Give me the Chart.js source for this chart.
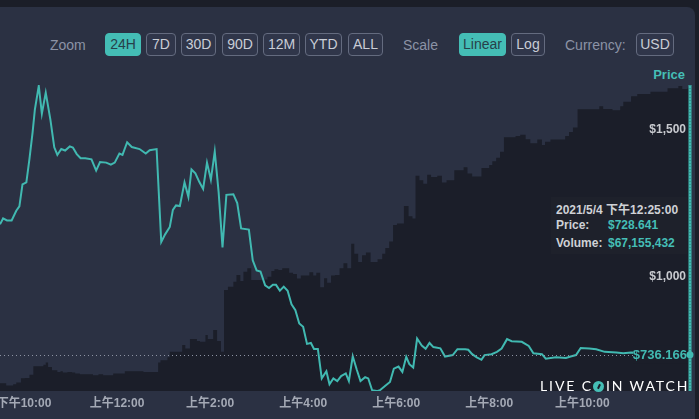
<!DOCTYPE html>
<html><head><meta charset="utf-8">
<script src="https://cdn.jsdelivr.net/npm/chart.js@4.4.1/dist/chart.umd.min.js"></script>
<style>
html,body{margin:0;padding:0;background:#1b1e28;width:699px;height:419px;overflow:hidden;}
#panel{position:absolute;left:-12px;top:7px;width:707px;height:430px;background:#2b3143;border-radius:8px;}
.lbl{position:absolute;top:34px;height:23px;line-height:23px;font-family:"Liberation Sans Narrow","Liberation Sans",sans-serif;font-size:14px;color:#8c93a6;}
.btn{position:absolute;top:33px;height:23px;box-sizing:border-box;border:1px solid #646b7f;border-radius:4px;background:#30364a;color:#c9cdd6;font-family:"Liberation Sans Narrow","Liberation Sans",sans-serif;font-size:14px;line-height:21px;text-align:center;}
.btn.on{background:#44bdb5;border-color:#44bdb5;color:#27404a;}
#ptitle{position:absolute;right:14px;top:67px;font-family:"Liberation Sans Narrow","Liberation Sans",sans-serif;font-weight:bold;font-size:13px;color:#45beb6;}
#tip{position:absolute;left:551px;top:197px;width:136px;height:57px;background:#1e212b;font-family:"Liberation Sans","Noto Sans CJK SC",sans-serif;font-weight:bold;font-size:12px;color:#cfd1d6;}
#tip div{position:absolute;left:5px;white-space:nowrap;}
#tip span.v{position:absolute;left:52px;color:#45beb6;}
#wm{position:absolute;left:540px;top:377px;font-family:"Lato","Open Sans",sans-serif;font-size:14px;letter-spacing:1.9px;color:#ffffff;white-space:nowrap;}
#wm .o{display:inline-block;width:11px;height:11px;border-radius:50%;background:#45beb6;vertical-align:-1px;margin-right:1.9px;position:relative;}
#wm .o:after{content:"";position:absolute;left:5px;top:3px;width:2px;height:5px;background:#1b1e29;transform:rotate(25deg);}
canvas{position:absolute;left:-40px;top:80px;}
</style></head>
<body>
<div id="panel"></div>
<div class="lbl" style="left:50px">Zoom</div>
<div class="btn on" style="left:105px;width:36px">24H</div>
<div class="btn" style="left:146px;width:30px">7D</div>
<div class="btn" style="left:181px;width:35px">30D</div>
<div class="btn" style="left:222px;width:36px">90D</div>
<div class="btn" style="left:263px;width:37px">12M</div>
<div class="btn" style="left:305px;width:37px">YTD</div>
<div class="btn" style="left:348px;width:35px">ALL</div>
<div class="lbl" style="left:403px">Scale</div>
<div class="btn on" style="left:459px;width:47px">Linear</div>
<div class="btn" style="left:511px;width:34px">Log</div>
<div class="lbl" style="left:565px">Currency:</div>
<div class="btn" style="left:636px;width:38px">USD</div>
<div id="ptitle">Price</div>
<canvas id="c" width="739" height="339"></canvas>
<div id="tip">
  <div style="top:3px">2021/5/4 下午12:25:00</div>
  <div style="top:21px">Price:<span class="v">$728.641</span></div>
  <div style="top:39px">Volume:<span class="v">$67,155,432</span></div>
</div>
<div id="wm">LIVE C<span class="o"></span>IN WATCH</div>
<script>
// ---- data ----
const priceTimes = ["21:29","21:33","21:38","21:44","21:50","21:54","21:58","22:03","22:07","22:11",
"22:14","22:19","22:23","22:28","22:34","22:39","22:43","22:48","22:53","22:59",
"23:03","23:08","23:13","23:19","23:27","23:33","23:38","23:46","23:52","23:57",
"00:03","00:07","00:13","00:19","00:29","00:37","00:42","00:51","00:57","01:02",
"01:08","01:12","01:16","01:21","01:27","01:32","01:36","01:41","01:46","01:51",
"01:56","02:01","02:06","02:11","02:16","02:21","02:30","02:35","02:40","02:50",
"02:55","03:00","03:05","03:11","03:16","03:21","03:25","03:30","03:35","03:40",
"03:45","03:50","03:55","04:00","04:05","04:10","04:14","04:19","04:24","04:30",
"04:34","04:39","04:44","04:49","04:55","04:59","05:04","05:09","05:14","05:20",
"05:24","05:29","05:35","05:39","05:46","05:52","05:57","06:03","06:08","06:13",
"06:17","06:22","06:27","06:33","06:38","06:43","06:48","06:57","07:03","07:13",
"07:19","07:29","07:33","07:38","07:44","07:50","07:54","08:03","08:10","08:16",
"08:23","08:29","08:42","08:51","08:57","09:08","09:13","09:26","09:39","09:45",
"09:52","09:58","10:09","10:18","10:29","10:44","10:53","11:03","11:30","12:00",
"12:19"];
const prices = [1178,1198,1191,1191,1224,1239,1313,1320,1400,1489,
1567,1647,1553,1624,1533,1439,1413,1433,1428,1442,
1438,1416,1402,1402,1398,1360,1389,1387,1380,1387,
1418,1413,1456,1440,1433,1418,1429,1433,1118,1144,
1169,1227,1242,1240,1320,1271,1364,1351,1322,1298,
1387,1329,1424,1287,1100,1278,1280,1250,1164,1160,
1056,1022,1018,971,962,973,973,953,967,953,
907,887,842,831,773,776,756,756,656,680,
636,656,647,664,673,647,731,687,647,660,
656,616,613,616,631,644,689,696,678,729,
704,693,791,767,756,776,762,758,730,735,
755,755,753,738,727,719,735,738,746,757,
789,782,780,766,741,738,723,728,725,730,
735,759,757,755,746,744,741,744,740,738,
736.166];
const volTimes = ["21:29","21:37","21:46","21:50","21:56","22:01","22:07","22:12","22:25","22:28",
"22:31","22:36","22:43","22:47","22:50","22:56","23:02","23:06","23:12","23:29",
"23:36","23:42","23:55","00:10","00:34","00:53","00:56","01:05","01:08","01:24",
"01:28","01:34","01:43","01:47","01:54","01:57","02:04","02:09","02:14","02:18",
"02:23","02:30","02:34","02:39","02:43","02:48","02:53","03:07","03:14","03:19",
"03:23","03:28","03:33","03:42","03:47","03:52","03:57","04:08","04:13","04:17",
"04:22","04:27","04:31","04:36","04:41","04:47","04:52","04:57","05:02","05:06",
"05:11","05:16","05:21","05:27","05:36","05:42","05:46","05:51","05:56","06:01",
"06:10","06:16","06:21","06:25","06:30","06:35","06:40","06:45","06:53","06:59",
"07:05","07:15","07:27","07:32","07:38","07:50","08:00","08:04","08:09","08:14",
"08:19","08:34","08:40","08:47","08:53","09:02","09:08","09:12","09:19","09:38",
"09:43","09:48","09:54","10:22","10:27","10:39","10:49","10:53","11:03","11:11",
"11:28","11:50","12:04","12:09","12:16","12:19"];
const volumesM = [1.7,1.2,1.5,1.9,2.8,2.9,3.6,5.5,5.8,6.3,
5.3,4.6,4.2,4.4,4.1,4.2,4.1,3.9,3.7,3.5,
3.7,3.5,3.9,4.4,4.2,6.3,6.8,7.5,8.7,10.2,
9.4,11.5,11.1,10.9,12.4,11.5,13.5,11.1,8.7,22.4,
23.1,24.2,25.7,24.4,26.4,27.2,24.6,24.7,25.3,26.6,
27.0,26.8,27.2,26.2,25.9,24.9,25.6,26.3,25.6,26.2,
23.0,25.0,24.0,25.6,25.7,27.2,28.3,27.2,32.6,30.4,
28.6,30.1,30.7,28.6,29.2,30.4,31.7,33.1,36.8,37.1,
41.0,38.7,38.2,47.7,46.7,45.9,47.9,47.4,47.7,46.2,
46.7,48.9,49.6,48.2,47.5,49.4,50.1,50.9,51.7,53.0,
56.2,56.5,56.8,55.8,54.9,55.7,54.5,55.2,55.7,56.5,
57.4,58.4,62.4,63.1,62.5,62.2,63.1,64.1,65.3,65.8,
66.3,67.1,67.6,66.9,67.2,67.155432];
const xTickTimes = ["22:00","00:00","02:00","04:00","06:00","08:00","10:00"];
const xTickLabels = ["下午10:00","上午12:00","上午2:00","上午4:00","上午6:00","上午8:00","上午10:00"];
const priceTicks = [1000,1500];
const currentPrice = 736.166;
const xRange = ["21:29","12:19"];
const priceRange = [613.3,1650];
const volRange = [0,67.8];

// minutes relative to 22:00 of the previous day
function toMin(s){const [h,m]=s.split(':').map(Number);const v=h*60+m;return h>=21?v-1320:v+120;}

const TEAL='#41b9b1';
const overlay = {
  id:'overlay',
  afterDatasetsDraw(chart){
    const ctx=chart.ctx, ca=chart.chartArea, ys=chart.scales.y, xs=chart.scales.x;
    const cy=ys.getPixelForValue(currentPrice);
    const cx=xs.getPixelForValue(toMin(priceTimes[priceTimes.length-1]));
    ctx.save();
    // dotted current price line
    ctx.strokeStyle='#8d93a3';ctx.lineWidth=1;ctx.setLineDash([1,3]);
    ctx.beginPath();ctx.moveTo(ca.left,Math.round(cy)+0.5);ctx.lineTo(cx-56,Math.round(cy)+0.5);ctx.stroke();
    ctx.setLineDash([]);
    // price tick labels
    ctx.font='bold 12px "Liberation Sans", sans-serif';ctx.fillStyle='#c8cacf';ctx.textAlign='right';ctx.textBaseline='middle';
    priceTicks.forEach(v=>{ctx.fillText('$'+v.toLocaleString('en-US'),cx-4,ys.getPixelForValue(v));});
    // current price label
    ctx.fillStyle='#1b1e29';ctx.fillRect(cx-57,cy-9,55,18);
    ctx.font='bold 13px "Liberation Sans", sans-serif';ctx.fillStyle=TEAL;
    ctx.fillText('$'+currentPrice.toFixed(3),cx-3,cy+1);
    // cursor line
    ctx.strokeStyle=TEAL;ctx.lineWidth=3;
    ctx.beginPath();ctx.moveTo(cx,ca.top);ctx.lineTo(cx,ca.bottom);ctx.stroke();
    ctx.strokeStyle='#2a7d78';ctx.lineWidth=1;ctx.setLineDash([1,2]);
    ctx.beginPath();ctx.moveTo(cx,ca.top);ctx.lineTo(cx,ca.bottom);ctx.stroke();
    ctx.setLineDash([]);
    ctx.fillStyle=TEAL;ctx.beginPath();ctx.arc(cx,cy,3.5,0,Math.PI*2);ctx.fill();
    ctx.restore();
  }
};

new Chart(document.getElementById('c'),{
  type:'line',
  data:{datasets:[
    {label:'Price',data:priceTimes.map((t,i)=>({x:toMin(t),y:prices[i]})),yAxisID:'y',
     borderColor:TEAL,borderWidth:2,pointRadius:0,tension:0,fill:false,order:0},
    {label:'Volume',data:volTimes.map((t,i)=>({x:toMin(t),y:volumesM[i]})),yAxisID:'v',
     stepped:'before',fill:'origin',backgroundColor:'#1b1e29',borderWidth:0,borderColor:'rgba(0,0,0,0)',pointRadius:0,order:1}
  ]},
  options:{
    responsive:false,animation:false,devicePixelRatio:1,
    layout:{padding:{left:40,right:9,top:5,bottom:3.6}},
    plugins:{legend:{display:false},tooltip:{enabled:false}},
    scales:{
      x:{type:'linear',position:'bottom',min:toMin(xRange[0]),max:toMin(xRange[1]),
        grid:{display:false,drawTicks:false},border:{display:false},
        afterBuildTicks:s=>{s.ticks=xTickTimes.map(t=>({value:toMin(t)}));},
        ticks:{autoSkip:false,maxRotation:0,padding:5,color:'#a4a9b5',
          font:{family:'"Liberation Sans","Noto Sans CJK SC",sans-serif',size:12,weight:'bold'},
          callback:(v)=>{const i=xTickTimes.findIndex(t=>toMin(t)===v);return i>=0?xTickLabels[i]:'';}}},
      y:{display:false,min:priceRange[0],max:priceRange[1]},
      v:{display:false,min:volRange[0],max:volRange[1]}
    }
  },
  plugins:[overlay]
});
</script>
</body></html>
